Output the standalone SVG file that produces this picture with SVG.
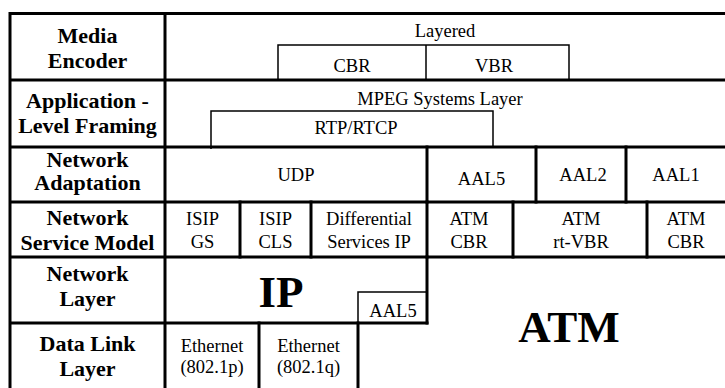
<svg xmlns="http://www.w3.org/2000/svg" width="725" height="388" viewBox="0 0 725 388">
<style>
.thick{stroke:#000;stroke-width:3;fill:none;stroke-linecap:square}
.thin{stroke:#000;stroke-width:1.5;fill:none}
.lbl{font-family:"Liberation Serif","Times New Roman",serif;font-weight:bold;font-size:22px;fill:#000;text-anchor:middle}
.t{font-family:"Liberation Serif","Times New Roman",serif;font-size:18.5px;fill:#000;text-anchor:middle}
.big{font-family:"Liberation Serif","Times New Roman",serif;font-weight:bold;font-size:45px;fill:#000;text-anchor:middle}
</style>
<rect width="725" height="388" fill="#fff"/>
<g id="grid">
  <path class="thick" d="M10,13.5H725 M10,13.5V388 M165,13.5V388 M10,80H725 M10,147H725 M10,202H725 M10,257H725 M10,323H427"/>
  <path class="thick" d="M427,147V202 M536,147V202 M626,147V202"/>
  <path class="thick" d="M240,202V257 M311,202V257 M427,202V257 M513,202V257 M647,202V257"/>
  <path class="thick" d="M427,257V323 M259,323V388 M358,323V388"/>
  <path class="thin" d="M278,80V45H569V80 M426,45V80"/>
  <path class="thin" d="M211,149V111H493V147"/>
  <path class="thin" d="M358,323V292H427"/>
</g>
<g id="label-media-encoder"><text class="lbl" x="87.5" y="43">Media</text><text class="lbl" x="87.5" y="68">Encoder</text></g>
<g id="label-app-framing"><text class="lbl" x="87.5" y="108">Application -</text><text class="lbl" x="87.5" y="133">Level Framing</text></g>
<g id="label-net-adaptation"><text class="lbl" x="87.5" y="167">Network</text><text class="lbl" x="87.5" y="190">Adaptation</text></g>
<g id="label-net-service"><text class="lbl" x="87.5" y="225">Network</text><text class="lbl" x="87.5" y="250">Service Model</text></g>
<g id="label-net-layer"><text class="lbl" x="87.5" y="281">Network</text><text class="lbl" x="87.5" y="306">Layer</text></g>
<g id="label-data-link"><text class="lbl" x="87.5" y="351">Data Link</text><text class="lbl" x="87.5" y="376">Layer</text></g>
<g id="layered"><text class="t" x="445" y="37">Layered</text></g>
<g id="cbr"><text class="t" x="352" y="72">CBR</text></g>
<g id="vbr"><text class="t" x="494" y="72">VBR</text></g>
<g id="mpeg"><text class="t" x="440" y="105">MPEG Systems Layer</text></g>
<g id="rtp"><text class="t" x="356" y="134">RTP/RTCP</text></g>
<g id="udp"><text class="t" x="296" y="181">UDP</text></g>
<g id="aal5-a"><text class="t" x="481.5" y="185">AAL5</text></g>
<g id="aal2"><text class="t" x="583" y="181">AAL2</text></g>
<g id="aal1"><text class="t" x="676" y="181">AAL1</text></g>
<g id="isip-gs"><text class="t" x="202.5" y="225">ISIP</text><text class="t" x="202.5" y="248">GS</text></g>
<g id="isip-cls"><text class="t" x="275.5" y="225">ISIP</text><text class="t" x="275.5" y="248">CLS</text></g>
<g id="diffserv"><text class="t" x="369" y="225">Differential</text><text class="t" x="369" y="248">Services IP</text></g>
<g id="atm-cbr-1"><text class="t" x="469" y="225">ATM</text><text class="t" x="469" y="248">CBR</text></g>
<g id="atm-rtvbr"><text class="t" x="581" y="225">ATM</text><text class="t" x="581" y="248">rt-VBR</text></g>
<g id="atm-cbr-2"><text class="t" x="686" y="225">ATM</text><text class="t" x="686" y="248">CBR</text></g>
<g id="ip"><text class="big" x="281" y="307">IP</text></g>
<g id="aal5-b"><text class="t" x="393" y="317">AAL5</text></g>
<g id="atm"><text class="big" x="569" y="342">ATM</text></g>
<g id="eth-p"><text class="t" x="212" y="352">Ethernet</text><text class="t" x="212" y="373">(802.1p)</text></g>
<g id="eth-q"><text class="t" x="308.5" y="352">Ethernet</text><text class="t" x="308.5" y="373">(802.1q)</text></g>
</svg>
